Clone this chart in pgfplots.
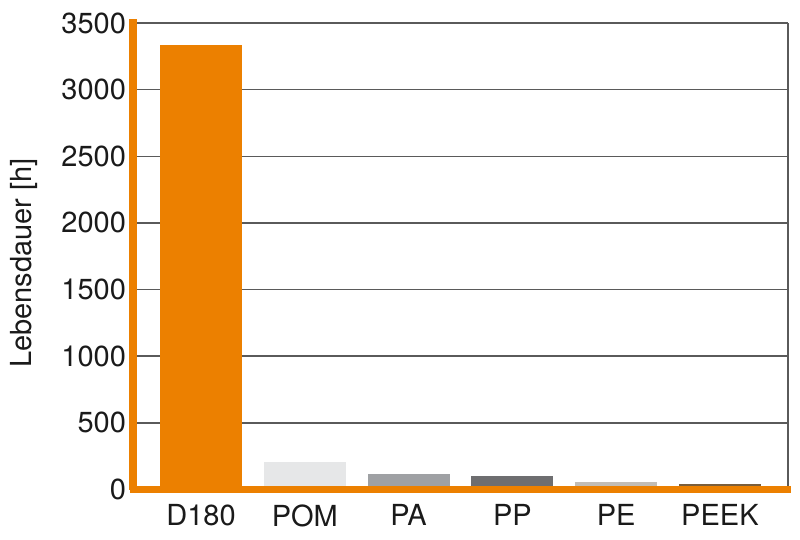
\documentclass[border=0pt]{standalone}
\usepackage{fontspec}
\setmainfont{TeX Gyre Heros}
\usepackage{pgfplots}
\pgfplotsset{compat=1.18}
\usetikzlibrary{calc}

\definecolor{igusorange}{HTML}{EC8000}
\definecolor{cPOM}{HTML}{E6E7E8}
\definecolor{cPA}{HTML}{9FA1A4}
\definecolor{cPP}{HTML}{6E6E70}
\definecolor{cPE}{HTML}{C2BDB6}
\definecolor{cPEEK}{HTML}{7A5E3C}
\definecolor{gridgray}{HTML}{5A5A5A}
\definecolor{txt}{HTML}{1A1A1A}

\begin{document}
\begin{tikzpicture}
\begin{axis}[
    name=ax,
    scale only axis,
    width=327.5bp, height=233.25bp,
    ybar, bar width=0.79, bar shift=0pt,
    xmin=-0.656, xmax=5.656,
    ymin=0, ymax=3500,
    xtick={0,1,2,3,4,5},
    xticklabels={D180,POM,PA,PP,PE,PEEK},
    ytick={0,500,1000,1500,2000,2500,3000,3500},
    scaled y ticks=false,
    /pgf/number format/1000 sep={},
    /pgf/number format/assume math mode=true,
    major tick length=0pt,
    axis line style={draw=none},
    ymajorgrids,
    major grid style={gridgray, line width=0.75bp},
    ticklabel style={font=\fontsize{14.5bp}{17bp}\selectfont, text=txt},
    xticklabel style={yshift=-4bp},
    ylabel={Lebensdauer [h]},
    ylabel style={at={(axis description cs:-0.1664,0.4855)}, anchor=center,
                  font=\fontsize{14.5bp}{17bp}\selectfont, text=txt},
    clip=false,
]
\addplot[fill=igusorange, draw=none] coordinates {(0,3334)};
\addplot[fill=cPOM, draw=none] coordinates {(1,206)};
\addplot[fill=cPA, draw=none] coordinates {(2,114)};
\addplot[fill=cPP, draw=none] coordinates {(3,99)};
\addplot[fill=cPE, draw=none] coordinates {(4,56)};
\addplot[fill=cPEEK, draw=none] coordinates {(5,39)};
\end{axis}
% right border
\draw[gridgray, line width=0.75bp] (ax.south east) -- (ax.north east);
% orange axes
\draw[igusorange, line width=4bp] (ax.south west) -- ($(ax.north west)+(0,2bp)$);
\draw[igusorange, line width=3.5bp] ($(ax.south west)+(-1.5bp,0)$) -- ($(ax.south east)+(1.5bp,0)$);
\pgfresetboundingbox
\path[use as bounding box] ($(ax.south west)+(-66.5bp,-25.25bp)$) rectangle ($(ax.south west)+(333.5bp,244.75bp)$);
\end{tikzpicture}
\end{document}
